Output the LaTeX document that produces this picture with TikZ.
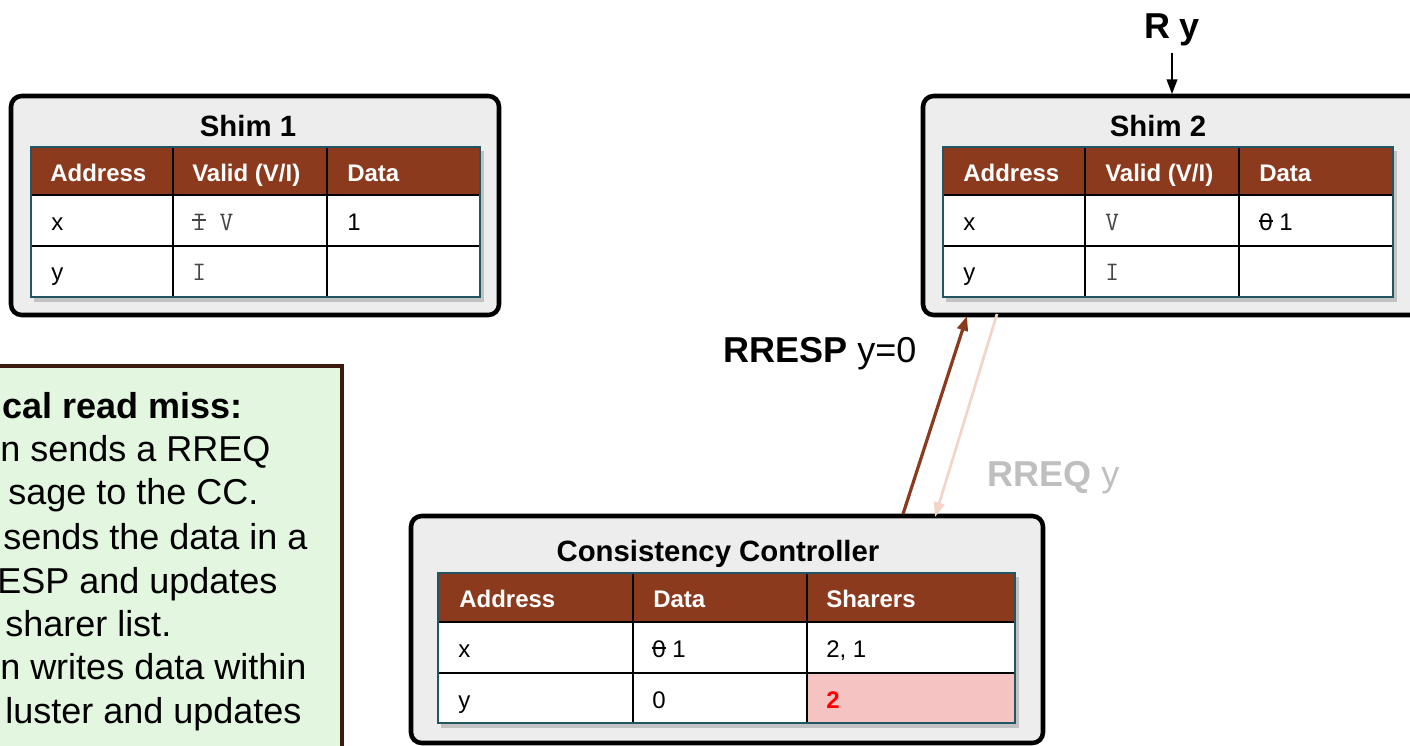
\documentclass[tikz,border=0pt]{standalone}
\usepackage{fontspec}
\setmainfont{Liberation Sans}
\usetikzlibrary{arrows.meta}
\definecolor{hdrbrown}{RGB}{139,58,30}
\definecolor{boxgray}{RGB}{237,237,237}
\definecolor{tealedge}{RGB}{31,88,99}
\definecolor{pinkcell}{RGB}{244,195,194}
\definecolor{reqpink}{RGB}{245,212,200}
\definecolor{reqgray}{RGB}{191,191,191}
\definecolor{notegreen}{RGB}{227,247,224}
\definecolor{noteedge}{RGB}{61,26,15}
\definecolor{monogray}{RGB}{70,70,70}
\newsavebox\mystkbox
\newcommand\mystrike[1]{\sbox\mystkbox{#1}\rlap{\rule[0.33em]{\wd\mystkbox}{0.07em}}\usebox\mystkbox}
\newcommand\drawtab[8]{%
  \fill[black,opacity=.18] (#1+3,#5+4) rectangle (#4+4,#8+5);
  \fill[hdrbrown] (#1,#5) rectangle (#4,#6);
  \fill[white] (#1,#6) rectangle (#4,#8);
  \draw[gridline] (#1,#6) -- (#4,#6) (#1,#7) -- (#4,#7)
        (#2,#5) -- (#2,#8) (#3,#5) -- (#3,#8);
  \draw[tealedge,line width=1.5pt] (#1,#5) rectangle (#4,#8);
}
\begin{document}
\begin{tikzpicture}[x=0.75pt,y=-0.75pt,
  outerbox/.style={draw=black,line width=3.4pt,fill=boxgray,rounded corners=8pt},
  gridline/.style={draw=black,line width=1.6pt},
  title/.style={anchor=base,inner sep=0pt,font=\fontsize{22}{26}\selectfont\bfseries},
  hdrtxt/.style={anchor=base west,inner sep=0pt,text=white,font=\fontsize{18}{22}\selectfont\bfseries},
  celltxt/.style={anchor=base west,inner sep=0pt,font=\fontsize{18}{22}\selectfont},
  monotxt/.style={anchor=base west,inner sep=0pt,text=monogray,font=\fontsize{20}{24}\selectfont\ttfamily},
  bigtxt/.style={anchor=base west,inner sep=0pt,font=\fontsize{27}{32}\selectfont},
  notetxt/.style={anchor=base west,inner sep=0pt,font=\fontsize{27}{32}\selectfont},
  arrowtip/.style={-{Triangle[length=11pt,width=8pt]}}
]
\clip (0,0) rectangle (1410,746);
\fill[white] (0,0) rectangle (1410,746);

% ---------- Shim 1 ----------
\draw[outerbox] (11,96) rectangle (499,315);
\node[title] (s1title) at (248,136) {Shim 1};
\drawtab{31}{173}{327}{480}{147}{195}{246}{297}
\node[hdrtxt] (s1h1) at (50,181) {Address};
\node[hdrtxt] (s1h2) at (192,181) {Valid (V/I)};
\node[hdrtxt] (s1h3) at (347,181) {Data};
\node[celltxt] (s1a1) at (51,230) {x};
\node[monotxt] (s1v1) at (192,230) {\mystrike{I} V};
\node[celltxt] (s1d1) at (347,230) {1};
\node[celltxt] (s1a2) at (51,280) {y};
\node[monotxt] (s1v2) at (192,280) {I};

% ---------- Shim 2 ----------
\draw[outerbox] (923,96) rectangle (1430,315);
\node[title] (s2title) at (1158,136) {Shim 2};
\drawtab{943}{1085}{1239}{1393}{147}{195}{246}{297}
\node[hdrtxt] (s2h1) at (963,181) {Address};
\node[hdrtxt] (s2h2) at (1105,181) {Valid (V/I)};
\node[hdrtxt] (s2h3) at (1259,181) {Data};
\node[celltxt] (s2a1) at (963,230) {x};
\node[monotxt] (s2v1) at (1105,230) {V};
\node[celltxt] (s2d1) at (1259,230) {\mystrike{0} 1};
\node[celltxt] (s2a2) at (963,280) {y};
\node[monotxt] (s2v2) at (1105,280) {I};

% ---------- R y ----------
\node[bigtxt,anchor=base,font=\fontsize{27}{32}\selectfont\bfseries] (ry) at (1172,38) {R y};
\coordinate (s2top) at (1172,94);
\draw[arrowtip,line width=1.4pt,black] (ry.south) ++(0,7) -- (s2top);

% ---------- Consistency Controller ----------
\draw[outerbox] (411,516) rectangle (1043,743);
\node[title] (cctitle) at (718,561) {Consistency Controller};
\drawtab{438}{633}{807}{1015}{573}{622}{673}{723}
\fill[pinkcell] (808,674) rectangle (1014,722);
\node[hdrtxt] (cch1) at (459,607) {Address};
\node[hdrtxt] (cch2) at (653,607) {Data};
\node[hdrtxt] (cch3) at (826,607) {Sharers};
\node[celltxt] (cca1) at (458,657) {x};
\node[celltxt] (ccd1) at (652,657) {\mystrike{0} 1};
\node[celltxt] (ccs1) at (826,657) {2, 1};
\node[celltxt] (cca2) at (458,708) {y};
\node[celltxt] (ccd2) at (652,708) {0};
\node[celltxt,text=red,font=\fontsize{18}{22}\selectfont\bfseries] (ccs2) at (826,708) {2};

% ---------- messages ----------
\coordinate (respS) at (903,514);
\coordinate (respE) at (967,316);
\coordinate (reqS) at (997,314);
\coordinate (reqE) at (935,517);
\draw[arrowtip,line width=2.4pt,hdrbrown] (respS) -- (respE);
\draw[arrowtip,line width=2.0pt,reqpink] (reqS) -- (reqE);
\node[bigtxt] (resplbl) at (723,362) {\textbf{RRESP} y=0};
\node[bigtxt,text=reqgray] (reqlbl) at (987,486) {\textbf{RREQ} y};

% ---------- note ----------
\draw[draw=noteedge,line width=3pt,fill=notegreen] (-20,366) rectangle (342,770);
\node[notetxt,font=\fontsize{27}{32}\selectfont\bfseries] (n1) at (2,418) {cal read miss:};
\node[notetxt] (n2) at (0,461) {n sends a RREQ};
\node[notetxt] (n3) at (8,504) {sage to the CC.};
\node[notetxt] (n4) at (3,549) {sends the data in a};
\node[notetxt] (n5) at (-3,593) {ESP and updates};
\node[notetxt] (n6) at (5,636) {sharer list.};
\node[notetxt] (n7) at (0,679) {n writes data within};
\node[notetxt] (n8) at (5,723) {luster and updates};
\end{tikzpicture}
\end{document}
